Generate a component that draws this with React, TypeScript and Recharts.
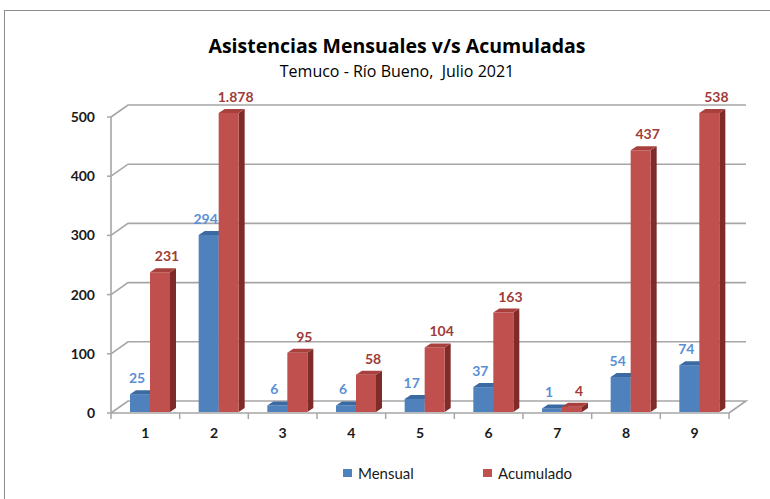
import { BarChart, Bar, XAxis, YAxis, CartesianGrid, Legend, LabelList } from 'recharts';

const categories = ['1', '2', '3', '4', '5', '6', '7', '8', '9'];
const mensual = [25, 294, 6, 6, 17, 37, 1, 54, 74];
const acumulado = [231, 1878, 95, 58, 104, 163, 4, 437, 538];
const yTicks = [0, 100, 200, 300, 400, 500];
const Y_MAX = 500;

const data = categories.map((cat, i) => ({
  cat,
  mensual: mensual[i],
  acumulado: acumulado[i],
  acumBar: Math.min(acumulado[i], Y_MAX),
}));

const W = 770;
const H = 499;
const MARGIN = { top: 117, right: 41, left: 0, bottom: 16 };
const Y_AXIS_W = 111;
const PLOT_W = W - MARGIN.left - MARGIN.right - Y_AXIS_W;
const PLOT_BOTTOM = 413;
const STEP = PLOT_W / categories.length;

// 3D depth of the floor / back wall and of the bars
const DX = 17;
const DY = 12;
const BX = 6;
const BY = 4;
const SX = 5;
const SY = 4;

const GRID = '#a6a6a6';
const FONT = 'Lato, "Open Sans", sans-serif';
const TITLE_FONT = '"Open Sans", Lato, sans-serif';

const formatNum = (v: number) => String(v).replace(/\B(?=(\d{3})+(?!\d))/g, '.');

function makeBar(front: string, top: string, side: string) {
  return (props: any) => {
    const { x, y, width, height } = props;
    const x0 = x + SX;
    const y0 = y - SY;
    const x1 = x0 + width;
    const y1 = y + height - 1;
    return (
      <g>
        <polygon points={`${x1},${y0} ${x1 + BX},${y0 - BY} ${x1 + BX},${y1 - BY} ${x1},${y1}`} fill={side} />
        <rect x={x0} y={y0} width={width} height={Math.max(y1 - y0, 0)} fill={front} />
        <polygon points={`${x0},${y0} ${x0 + BX},${y0 - BY} ${x1 + BX},${y0 - BY} ${x1},${y0}`} fill={top} />
      </g>
    );
  };
}

function makeLabel(color: string, dx: number) {
  return (props: any) => {
    const { x, y, width, value } = props;
    return (
      <text
        x={x + width / 2 + SX + dx}
        y={y - SY - 11}
        textAnchor="middle"
        fill={color}
        fontSize={14}
        fontWeight={700}
        fontFamily={FONT}
      >
        {formatNum(Number(value))}
      </text>
    );
  };
}

function gridLine(props: any) {
  const { x1, x2, y1, index } = props;
  const isFloor = y1 > PLOT_BOTTOM - 1;
  const d = isFloor
    ? `M${x1},${y1} L${x1 + DX},${y1 - DY} L${x2 + DX},${y1 - DY} L${x2},${y1}`
    : `M${x1},${y1} L${x1 + DX},${y1 - DY} L${x2 + DX},${y1 - DY}`;
  return <path key={`grid-${index}`} d={d} stroke={GRID} strokeWidth={1.6} fill="none" />;
}

function CategoryTick(props: any) {
  const { x, y, payload, index } = props;
  const left = x - STEP / 2;
  return (
    <g>
      <line x1={left} y1={y} x2={left} y2={y + 6} stroke={GRID} strokeWidth={1.5} />
      {index === categories.length - 1 && (
        <line x1={x + STEP / 2} y1={y} x2={x + STEP / 2} y2={y + 6} stroke={GRID} strokeWidth={1.5} />
      )}
      <text x={x} y={y + 25} textAnchor="middle" fill="#1a1a1a" fontSize={14} fontWeight={700} fontFamily={FONT}>
        {payload.value}
      </text>
    </g>
  );
}

function ChartLegend() {
  const item = (left: number, color: string, label: string) => (
    <div style={{ position: 'absolute', left, top: 0, height: 20, display: 'flex', alignItems: 'center' }}>
      <span style={{ width: 9, height: 8, background: color, marginRight: 6 }} />
      <span style={{ fontSize: 15, color: '#1a1a1a', fontFamily: FONT }}>{label}</span>
    </div>
  );
  return (
    <div style={{ position: 'relative', width: W, height: 20 }}>
      {item(343, '#4f81bd', 'Mensual')}
      {item(483, '#c0504d', 'Acumulado')}
    </div>
  );
}

export default function App() {
  return (
    <div style={{ position: 'absolute', left: 0, top: 0, width: W, height: H, overflow: 'hidden', background: '#fff' }}>
      <div
        style={{
          position: 'absolute',
          left: 4,
          top: 10,
          width: W + 20,
          height: H + 20,
          borderLeft: '1.5px solid #8c8c8c',
          borderTop: '1.5px solid #8c8c8c',
        }}
      />
      <div style={{ position: 'absolute', left: 0, top: 0 }}>
        <BarChart width={W} height={H} data={data} margin={MARGIN} barGap={0}>
          <text x={397} y={53} textAnchor="middle" fontSize={19.5} fontWeight={700} fill="#000" fontFamily={TITLE_FONT}>
            Asistencias Mensuales v/s Acumuladas
          </text>
          <text x={397} y={77} textAnchor="middle" fontSize={16} fill="#000" fontFamily={TITLE_FONT} style={{ whiteSpace: 'pre' }}>
            Temuco - Río Bueno,  Julio 2021
          </text>
          <CartesianGrid vertical={false} horizontal={gridLine} />
          <XAxis
            dataKey="cat"
            height={50}
            tickSize={0}
            tickMargin={0}
            tick={<CategoryTick />}
            axisLine={{ stroke: GRID, strokeWidth: 1.6 }}
            tickLine={false}
            interval={0}
          />
          <YAxis
            width={Y_AXIS_W}
            domain={[0, Y_MAX]}
            ticks={yTicks}
            tickSize={4}
            tickMargin={12}
            axisLine={{ stroke: GRID, strokeWidth: 1.6 }}
            tickLine={{ stroke: GRID, strokeWidth: 1.5 }}
            tick={{ fill: '#1a1a1a', fontSize: 14, fontWeight: 700, fontFamily: FONT }}
          />
          <Legend verticalAlign="bottom" wrapperStyle={{ left: 0, width: W }} content={<ChartLegend />} />
          <Bar
            dataKey="mensual"
            name="Mensual"
            barSize={20}
            fill="#4f81bd"
            shape={makeBar('#4f81bd', '#3b6aa2', '#2f5584')}
            isAnimationActive={false}
          >
            <LabelList dataKey="mensual" content={makeLabel('#5a8fd6', -3)} />
          </Bar>
          <Bar
            dataKey="acumBar"
            name="Acumulado"
            barSize={20}
            fill="#c0504d"
            shape={makeBar('#c0504d', '#a8413e', '#7e2b29')}
            isAnimationActive={false}
          >
            <LabelList dataKey="acumulado" content={makeLabel('#a03c38', 7)} />
          </Bar>
        </BarChart>
      </div>
    </div>
  );
}
